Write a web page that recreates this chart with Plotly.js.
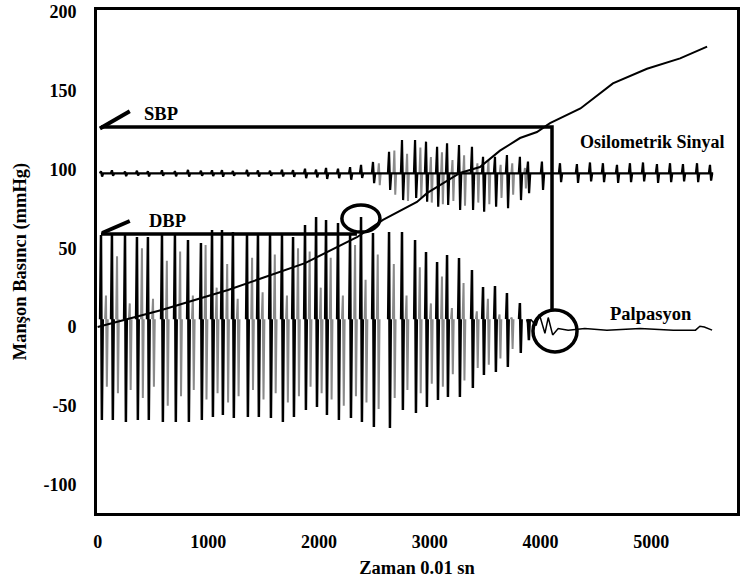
<!DOCTYPE html>
<html>
<head>
<meta charset="utf-8">
<script src="https://cdn.plot.ly/plotly-3.0.1.min.js"></script>
<style>html,body{margin:0;padding:0;background:#fff;}#chart{width:740px;height:587px;}</style>
</head>
<body>
<div id="chart"></div>
<script>
// ---- Data ----
// Cuff pressure (Manşon basıncı) curve
const cuffT = [0, 578, 1177, 1629, 1873, 2342, 2577, 2884, 2975, 3273, 3453, 3634, 3815, 3968, 4086, 4361, 4654, 4962, 5261, 5505];
const cuffP = [0, 10.8, 23.5, 34.3, 40.6, 57, 68, 79.4, 85, 97.8, 101.6, 112, 120, 123.8, 129.5, 138.8, 154.7, 164, 170.6, 178];

// Palpation signal: beat times, peak and trough values
const palpT  = [30,129,247,355,454,581,698,816,933,1033,1123,1222,1349,1448,1557,1665,1765,1873,1973,2063,2171,2280,2379,2487,2632,2749,2867,2966,3066,3156,3264,3381,3481,3589,3697,3814,3887];
const palpHi = [58.4,58.4,58.4,57.1,57.1,58.4,58.4,55.2,53.3,61.6,61.6,60.3,59.7,59.7,59.7,58.4,57.1,64.8,69.8,67.9,66,59.7,69.8,59.7,60.3,60.3,55.2,47.6,41.3,45.7,43.8,36.2,25.4,26,21.6,15.2,2.5];
const palpLo = [-59,-59,-60.3,-59,-59,-60.3,-60.3,-60.3,-59,-57.1,-55.9,-57.8,-57.1,-57.1,-57.8,-60.3,-57.1,-52.7,-50.8,-55.9,-59,-57.8,-60.3,-63.5,-64.1,-52.7,-54.6,-50.8,-46.3,-44.4,-44.4,-38.7,-30.5,-28.6,-25.4,-16.5,-8.3];
const palpBase = 5;
// grey companion trace of the palpation record
const grayT  = [75,175,290,400,500,625,745,860,975,1075,1170,1265,1395,1490,1600,1710,1810,1915,2015,2105,2215,2325,2420,2530,2675,2790,2910,3010,3110,3200,3305,3425,3525,3630,3740];
const grayHi = [20,45,15,50,18,42,48,20,52,25,40,18,44,22,46,20,50,48,25,44,20,52,30,46,40,20,38,15,32,12,28,10,18,8,6];
const grayLo = [-38,-42,-40,-45,-38,-50,-44,-40,-46,-42,-48,-44,-40,-46,-42,-48,-44,-38,-42,-46,-50,-44,-48,-52,-45,-40,-42,-36,-38,-30,-34,-26,-24,-20,-14];
// palpation tail after the last beat
const palpTailT = [3910, 3960, 3990, 4040, 4070, 4110, 4160, 4250, 4400, 4600, 4900, 5200, 5400, 5440, 5480, 5550];
const palpTailV = [5, 1, 8, -4, 6, -5, -1, -2, -1, -2, -1, -2, -2, 0.5, 0, -2];

// Oscillometric signal: beat times, peak and trough values
const oscT  = [30,129,247,355,454,581,698,816,933,1033,1123,1222,1349,1448,1557,1665,1765,1873,1973,2063,2171,2280,2379,2487,2632,2749,2867,2966,3066,3156,3264,3381,3481,3589,3697,3814,3887,4013,4176,4329,4447,4564,4691,4808,4926,5052,5170,5287,5414,5531];
const oscHi = [99,99.5,98.8,99.3,99,99.5,99,99.8,99.2,99.5,99.6,99.1,99.8,99.4,99.2,99.9,99.6,100.5,100,101,100.5,101.5,102.9,104.8,111.3,118.7,118.7,117.7,114.5,116.6,115.6,114.5,108.1,108.1,109.2,108.1,105,105,104,103.5,104.5,104,103,104,104.5,103.5,104,103.5,104,103];
const oscLo = [95.5,96,95.8,96.2,95.6,96,95.7,95.5,96.1,95.8,95.4,96,95.7,95.5,96.1,95.6,95.3,94.5,95,94,94.5,93.5,94.6,91.4,87,80.6,81.9,79.6,76.4,77.5,74.3,74.3,73.2,76.4,75.4,80.6,84.9,87,92,91.5,92.5,92,91.5,92,92.5,91.5,92,92.5,92,93];
const oscBase = 97.5;
// grey companion of the oscillometric record (large-oscillation zone)
const oscGrayT  = [2540, 2680, 2795, 2915, 3010, 3110, 3205, 3310, 3430, 3530, 3640, 3745, 3860];
const oscGrayHi = [104, 112, 110, 114, 108, 111, 106, 109, 104, 106, 103, 104, 101];
const oscGrayLo = [90, 84, 80, 82, 79, 78, 80, 77, 79, 78, 82, 84, 88];

// Reference pressures / times
const SBP = 127, SBP_T = 4104;
const DBP = 59,  DBP_T = 2342;
const LINE_START = 30;
const sbpPointerT = [20, 290], sbpPointerV = [126, 137];
const dbpPointerT = [40, 290], dbpPointerV = [59.7, 67.3];
const markT = [2378, 4131];   // circled points
const markV = [68.9, -2.5];

const xTicks = [0, 1000, 2000, 3000, 4000, 5000];
const yTicks = [-100, -50, 0, 50, 100, 150, 200];

// ---- build beat paths ----
function beatPath(t, hi, lo, base, w, gaps, endT) {
  const xs = [], ys = [];
  for (let i = 0; i < t.length; i++) {
    xs.push(t[i] - w, t[i], t[i] + w, t[i] + 2 * w);
    ys.push(base, hi[i], lo[i], base);
    if (gaps) { xs.push(null); ys.push(null); }
  }
  if (endT !== undefined) { xs.push(endT); ys.push(base); }
  return {x: xs, y: ys};
}
const palp = beatPath(palpT, palpHi, palpLo, palpBase, 8, true);
const gray = beatPath(grayT, grayHi, grayLo, palpBase, 8, true);
const osc = beatPath(oscT, oscHi, oscLo, oscBase, 10, false, 5560);
const oscG = beatPath(oscGrayT, oscGrayHi, oscGrayLo, oscBase, 8, true);

const F = 'Liberation Serif, Times New Roman, serif';
const font = (s) => ({family: F, size: s, color: '#000', weight: 'bold'});

const traces = [
  {x: gray.x, y: gray.y, mode: 'lines', line: {color: '#8a8a8a', width: 2}, connectgaps: false, hoverinfo: 'skip'},
  {x: oscG.x, y: oscG.y, mode: 'lines', line: {color: '#8a8a8a', width: 2}, connectgaps: false, hoverinfo: 'skip'},
  {x: palp.x, y: palp.y, mode: 'lines', line: {color: '#000', width: 2.5}, connectgaps: false, hoverinfo: 'skip'},
  {x: palpTailT, y: palpTailV, mode: 'lines', line: {color: '#000', width: 1.5}, hoverinfo: 'skip'},
  {x: osc.x, y: osc.y, mode: 'lines', line: {color: '#000', width: 2.2}, hoverinfo: 'skip'},
  {x: cuffT, y: cuffP, mode: 'lines', line: {color: '#000', width: 2}, hoverinfo: 'skip'},
  {x: [LINE_START, SBP_T, SBP_T], y: [SBP, SBP, markV[1] + 13.3], mode: 'lines', line: {color: '#000', width: 3.5}, hoverinfo: 'skip'},
  {x: [LINE_START, DBP_T], y: [DBP, DBP], mode: 'lines', line: {color: '#000', width: 3.5}, hoverinfo: 'skip'},
  {x: sbpPointerT, y: sbpPointerV, mode: 'lines', line: {color: '#000', width: 4}, hoverinfo: 'skip'},
  {x: dbpPointerT, y: dbpPointerV, mode: 'lines', line: {color: '#000', width: 4}, hoverinfo: 'skip'}
];

const rx = [172, 199], ry = [8.6, 13.3];
const shapes = markT.map((t, i) => ({
  type: 'circle', xref: 'x', yref: 'y',
  x0: t - rx[i], x1: t + rx[i], y0: markV[i] - ry[i], y1: markV[i] + ry[i],
  line: {color: '#000', width: 3.5}
}));

const layout = {
  width: 740, height: 587,
  margin: {l: 97, r: 3, t: 10, b: 74, pad: 0},
  paper_bgcolor: '#fff', plot_bgcolor: '#fff',
  showlegend: false,
  xaxis: {
    range: [-6, 5775], tickvals: xTicks, ticktext: xTicks.map(String),
    showgrid: false, zeroline: false, showline: true, mirror: true,
    linewidth: 3, linecolor: '#000', ticks: '', ticklabelstandoff: 10,
    tickfont: font(18),
    title: {text: 'Zaman 0.01 sn', font: font(18.5), standoff: 11}
  },
  yaxis: {
    range: [-118.1, 201.3], tickvals: yTicks, ticktext: yTicks.map(String),
    showgrid: false, zeroline: false, showline: true, mirror: true,
    linewidth: 3, linecolor: '#000', ticks: '', ticklabelstandoff: 14,
    tickfont: font(18),
    title: {text: 'Manşon Basıncı (mmHg)', font: font(18.5), standoff: 12}
  },
  shapes: shapes,
  annotations: [
    {x: 573, y: 135.2, xref: 'x', yref: 'y', text: 'SBP', showarrow: false, font: font(18.5)},
    {x: 627, y: 67.3, xref: 'x', yref: 'y', text: 'DBP', showarrow: false, font: font(18.5)},
    {x: 5008, y: 117.5, xref: 'x', yref: 'y', text: 'Osilometrik Sinyal', showarrow: false, font: font(18)},
    {x: 4999, y: 8.3, xref: 'x', yref: 'y', text: 'Palpasyon', showarrow: false, font: font(18.5)}
  ]
};

Plotly.newPlot('chart', traces, layout, {staticPlot: true, displayModeBar: false});
</script>
</body>
</html>
